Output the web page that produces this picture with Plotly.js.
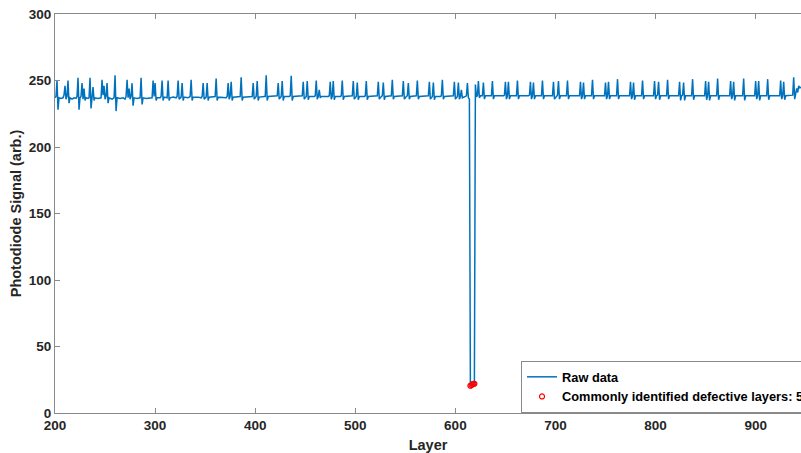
<!DOCTYPE html>
<html>
<head>
<meta charset="utf-8">
<script src="https://cdn.plot.ly/plotly-3.0.1.min.js"></script>
<style>html,body{margin:0;padding:0;background:#fff;}#chart{width:801px;height:453px;}</style>
</head>
<body>
<div id="chart"></div>
<script>
// Raw photodiode signal, vertices (layer, value)
const layers = [
  200,201,202,203,204,206,208,209,210,211,
  212,213,214,215,217,219,221,222,223,224,
  225,226,227,228,229,230,231,233,234,235,
  236,237,238,239,240,243,246,247,248,249,
  250,251,252,253,254,257,259,260,261,262,
  265,268,270,271,272,273,274,275,276,277,
  278,279,282,285,286,287,288,291,294,297,
  298,299,300,301,302,305,306,307,308,309,
  312,313,314,315,318,321,322,323,324,326,
  327,328,329,333,335,336,337,338,343,346,
  347,348,349,351,352,353,354,359,360,361,
  362,363,368,371,372,373,374,375,376,377,
  378,384,385,386,387,388,393,396,397,398,
  399,401,402,403,404,409,410,411,412,413,
  418,421,422,423,424,426,427,428,429,434,
  435,436,437,438,446,447,448,449,451,452,
  453,454,459,460,461,462,463,464,465,466,
  473,474,475,476,477,478,479,480,485,486,
  487,488,489,496,497,498,499,501,502,503,
  504,509,510,511,512,513,521,522,523,524,
  526,527,528,529,530,535,536,537,538,539,
  546,547,548,549,551,552,553,554,555,560,
  561,562,563,564,572,573,574,575,577,578,
  579,580,585,586,587,588,589,597,598,599,
  600,602,603,604,605,606,607,610,611,612,
  613,614,615,616,617,618,619,620,621,622,
  623,624,625,627,628,629,630,636,637,638,
  639,648,649,650,651,652,653,654,655,661,
  662,663,664,673,674,675,676,677,678,679,
  680,686,687,688,689,697,698,699,701,702,
  703,704,705,711,712,713,714,724,725,726,
  727,728,729,730,736,737,738,739,749,750,
  751,752,753,754,755,761,762,763,764,774,
  775,776,777,778,779,780,786,787,788,789,
  798,799,800,801,802,803,804,805,811,812,
  813,814,823,824,825,826,827,828,829,830,
  836,837,838,839,849,850,851,852,853,854,
  855,861,862,863,864,874,875,876,877,878,
  879,880,887,888,889,890,899,900,901,902,
  903,904,905,911,912,913,914,924,925,926,
  927,928,929,930,937,938,939,940,941,942,
  943,944,945,946
];
const signal = [
  237,238,250,228,237,236.5,237,239,246,236,
  238,250,233,237,236,237,236.5,238,252,228,
  237,238,248,236,244,235,237,236.5,237,252,
  229,237,245,235,237,236.5,237,250.5,239,246,
  236,238,248,233,237,236,237,254,227,237,
  236.5,237,236,238,250.5,237,244,236,238,248,
  231,237,236.5,237,252,232,237,236.5,237,237,
  250,238,248,235,237,237,238,250,235,237.5,
  237,250,235,237,237.5,237,238,250,236,237.5,
  248,235,237.5,237,238,250.5,235,237.5,237.5,237,
  238,248,236,237.5,248,235,237.5,237.5,238,251.5,
  235,237.5,237.5,237,238,248,236,238,249,235,
  237.5,237.5,238,252.5,235,237.5,237.5,238,238,248,
  236,238,249.5,235,237.5,238,238,254,235,238,
  238,238,238.5,248,236,238,249.5,235,238,238,
  238.5,253.5,235,238,238,238.5,249,236,238,249.5,
  235.5,238,238,238.5,250,236,238,243,237,238,
  238,238.5,249,236,238,249.5,235.5,238,238,238.5,
  250,235.5,238,238,238.5,249.5,236,238,248.5,235.5,
  238,238,238.5,249.5,235.5,238,238,238.5,249,236,
  238,238.5,248.5,235.5,238,238,238.5,250.5,236,238,
  238,238.5,249.5,236,238,238.5,248,236,238,238,
  238.5,250,236,238,238,238.5,249,236,238,248.5,
  235.5,238,238,238.5,250.5,236,238,238,238.5,249,
  236,238,248.5,236,238,243,237,238,238.5,248,
  237,236,20.5,21,21.5,22,22,247,238,238.5,
  249.5,237,238.5,238.5,248.5,236,238.5,238.5,249.5,236,
  238.5,238.5,239,249,236,238.5,249,236,238.5,238.5,
  250,236,238.5,238.5,239,249,236,238.5,248.5,236,
  238.5,238.5,250,236,238.5,238.5,249,236,238.5,239,
  249.5,236,238.5,238.5,250,236,238.5,238.5,249,236,
  238.5,248.5,236,238.5,238.5,250.5,236,238.5,238.5,248.5,
  236,238.5,249,236,238.5,238.5,251,236,238.5,238.5,
  249,236,238.5,248.5,235.5,238.5,238.5,250,236,238.5,
  238.5,249.5,236,238.5,239,249,235.5,238.5,238.5,250.5,
  236,238.5,238.5,249,235,238.5,239,248.5,235,238.5,
  238.5,251,235.5,238.5,238.5,249.5,235.5,238.5,249,235,
  238.5,238.5,251.5,235.5,238.5,238.5,249.5,236,238.5,249,
  235,238.5,238.5,251.5,235,238.5,238.5,249.5,236,238.5,
  249.5,235,238.5,238.5,251,235.5,238.5,238.5,250,236,
  238.5,249,235.5,238.5,239,252.5,236,239,244,241,
  246,244.5,245,245
];
// Commonly identified defective layers
const defectLayers = [615,616,617,618,619];
const defectSignal = [20.5,21,21.5,22,22];

const xTicks = [200,300,400,500,600,700,800,900];
const yTicks = [0,50,100,150,200,250,300];

const axisColor = '#262626';
const lineGrey = '#8a8a8a';
const fontFam = 'Liberation Sans, Arial, Helvetica, sans-serif';

const traces = [
  {
    x: layers, y: signal, type: 'scatter', mode: 'lines',
    name: 'Raw data',
    line: {color: '#0072BD', width: 1.5}
  },
  {
    x: defectLayers, y: defectSignal, type: 'scatter', mode: 'markers',
    name: 'Commonly identified defective layers: ' + defectLayers.length,
    marker: {symbol: 'circle-open', color: '#FF0000', size: 5, line: {width: 1.2, color: '#FF0000'}}
  }
];

const layout = {
  width: 801, height: 453,
  margin: {l: 55, r: 0, t: 14, b: 40, autoexpand: false},
  paper_bgcolor: '#ffffff', plot_bgcolor: '#ffffff',
  font: {family: fontFam, color: axisColor},
  showlegend: true,
  xaxis: {
    range: [200, 945.3], tickvals: xTicks, ticktext: xTicks.map(String),
    ticks: 'inside', ticklen: 5, tickwidth: 1, tickcolor: lineGrey,
    showline: true, linecolor: lineGrey, linewidth: 1, mirror: 'ticks',
    showgrid: false, zeroline: false,
    tickfont: {family: fontFam, size: 13.5, weight: 'bold', color: axisColor},
    title: {text: 'Layer', font: {family: fontFam, size: 14.5, weight: 'bold', color: axisColor}, standoff: 7},
    automargin: false
  },
  yaxis: {
    range: [0, 300], tickvals: yTicks, ticktext: yTicks.map(String),
    ticks: 'inside', ticklen: 5, tickwidth: 1, tickcolor: lineGrey,
    showline: true, linecolor: lineGrey, linewidth: 1, mirror: false,
    showgrid: false, zeroline: false,
    tickfont: {family: fontFam, size: 13.5, weight: 'bold', color: axisColor},
    title: {text: 'Photodiode Signal (arb.)', font: {family: fontFam, size: 14.5, weight: 'bold', color: axisColor}, standoff: 3},
    automargin: false
  },
  legend: {
    x: 0.6247, y: 0, xanchor: 'left', yanchor: 'bottom',
    bgcolor: '#ffffff', bordercolor: lineGrey, borderwidth: 1,
    font: {family: fontFam, size: 12.8, weight: 'bold', color: '#000000'},
    tracegroupgap: 0
  }
};

Plotly.newPlot('chart', traces, layout, {displayModeBar: false, staticPlot: true});
</script>
</body>
</html>
